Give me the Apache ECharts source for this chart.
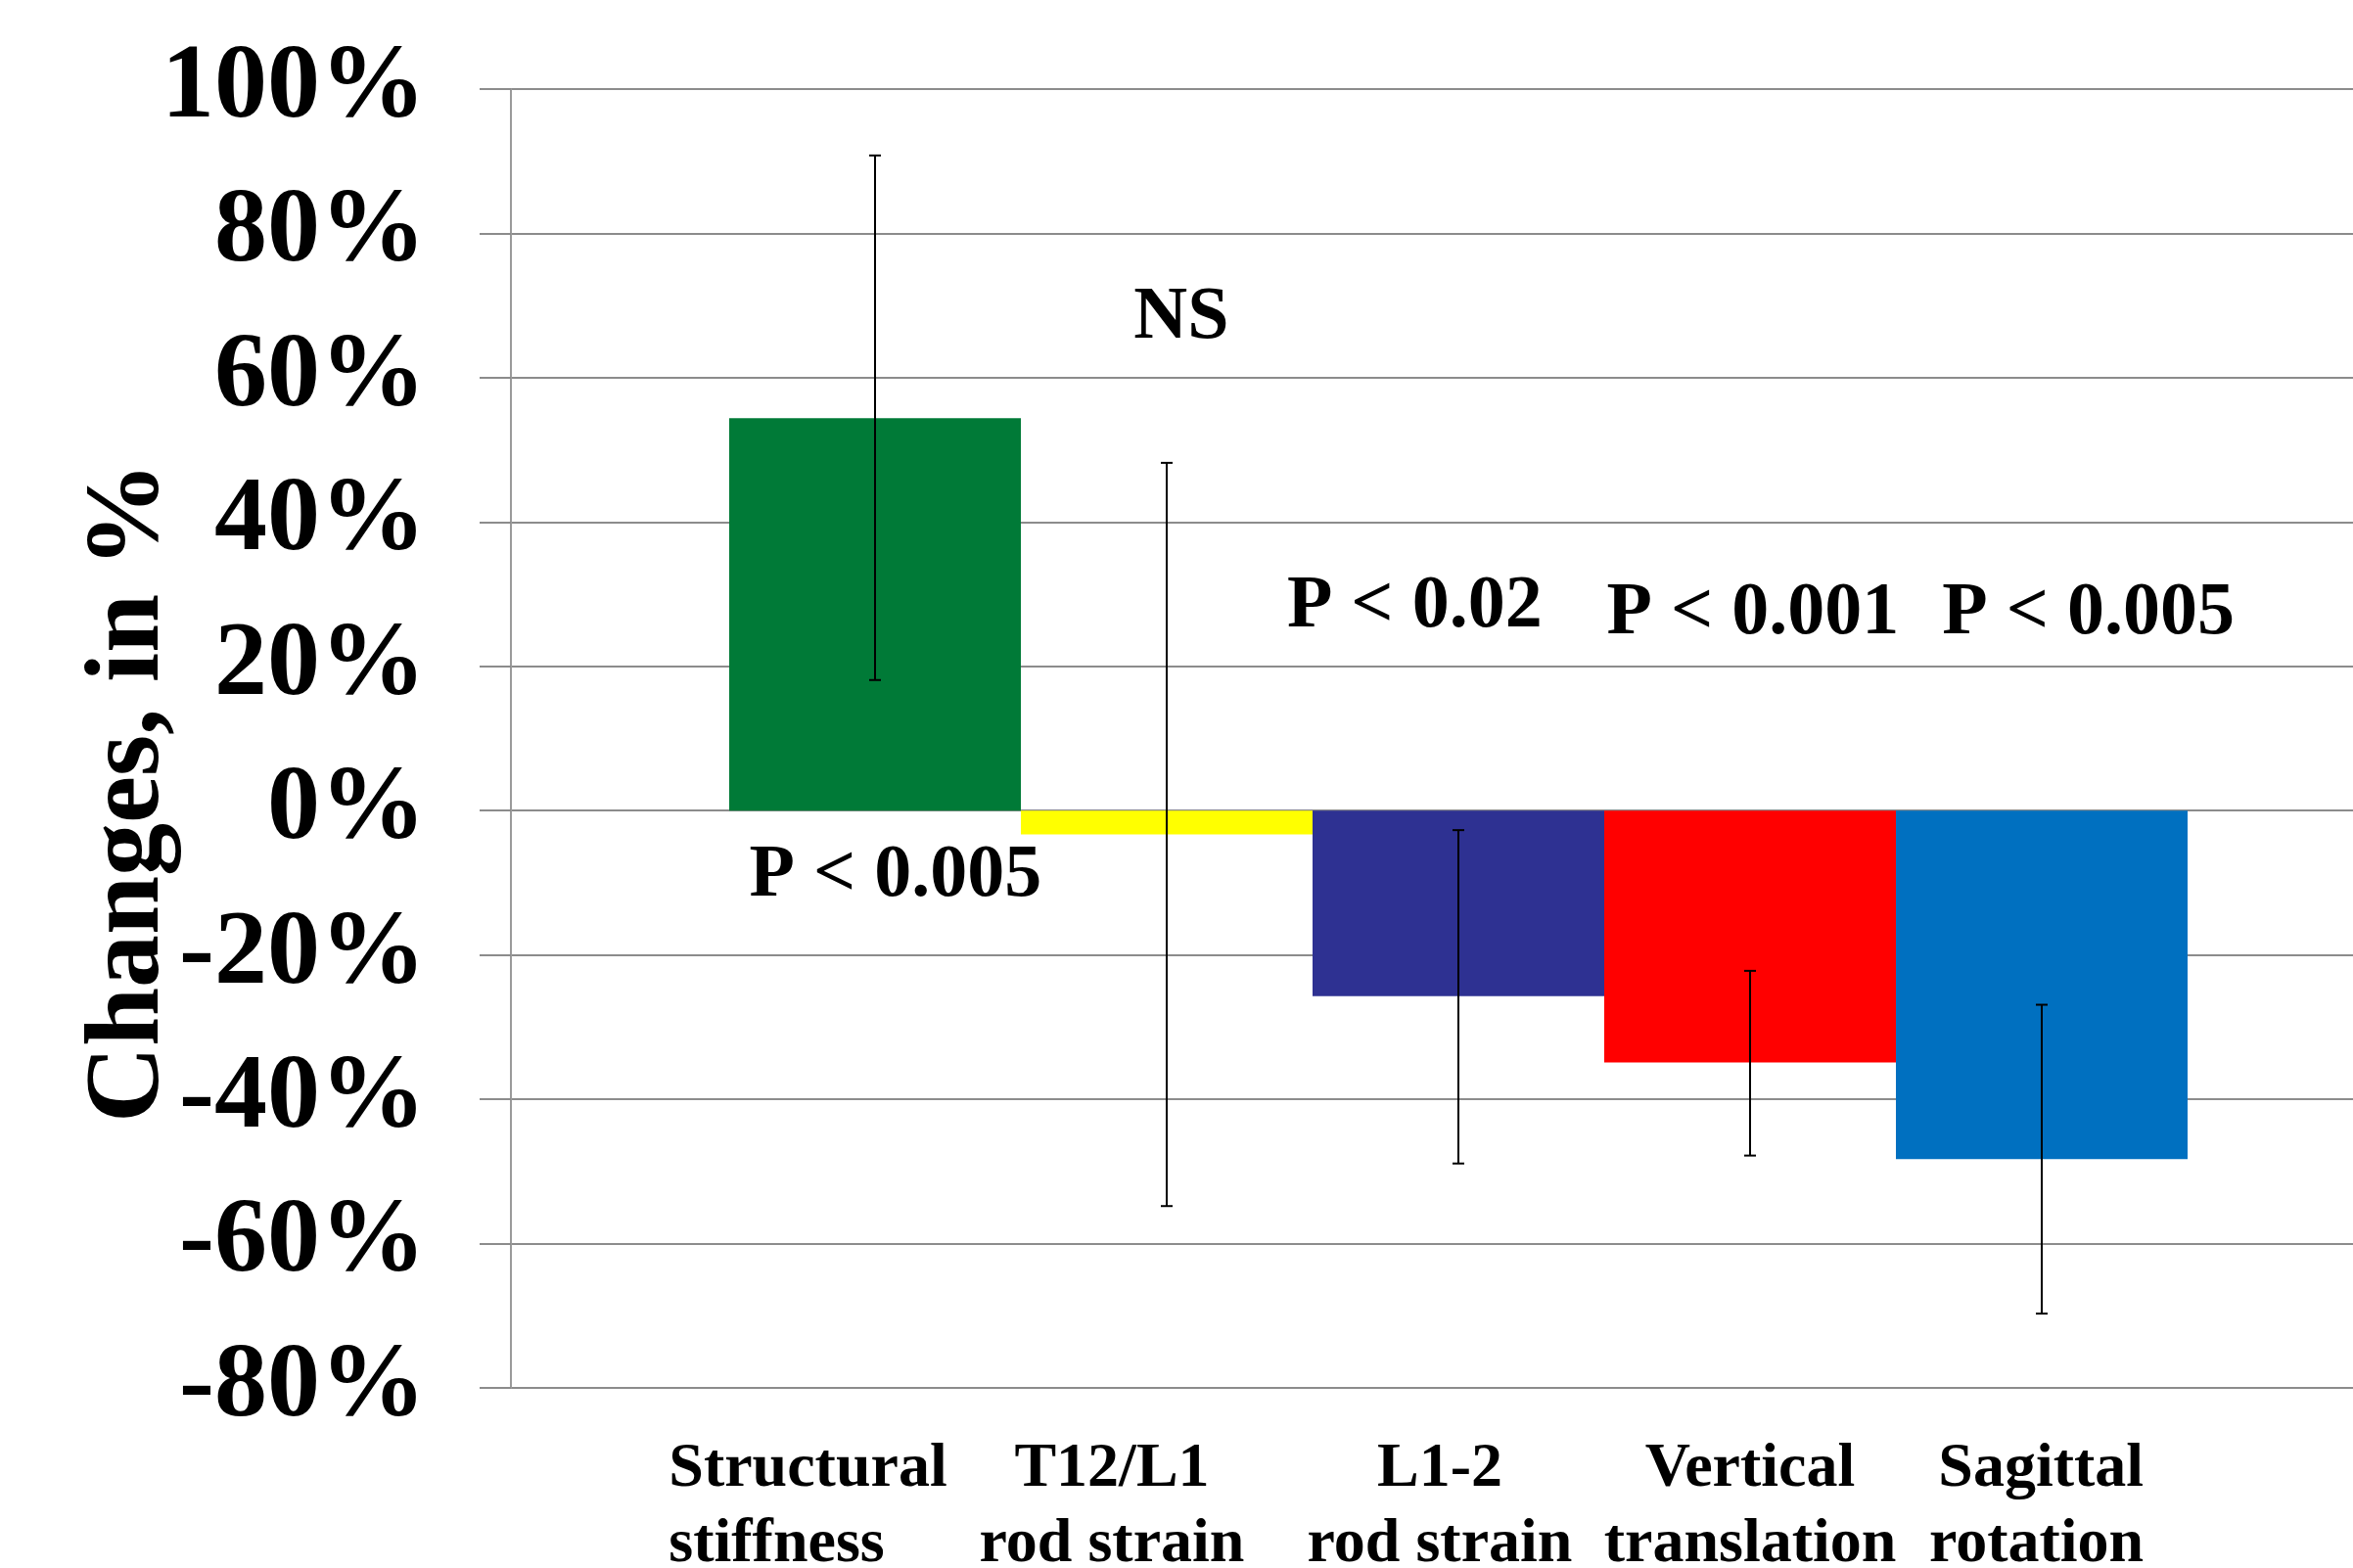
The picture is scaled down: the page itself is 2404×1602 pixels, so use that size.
<!DOCTYPE html>
<html>
<head>
<meta charset="utf-8">
<script src="https://cdn.jsdelivr.net/npm/echarts@6/dist/echarts.min.js"></script>
<style>
html,body{margin:0;padding:0;background:#fff;}
#chart{width:2404px;height:1602px;}
</style>
</head>
<body>
<div id="chart"></div>
<script>
// ---- data ----
const categories = ['Structural\nstiffness', 'T12/L1\nrod strain', 'L1-2\nrod strain', 'Vertical\ntranslation', 'Sagittal\nrotation'];
const values = [54.4, -3.3, -25.7, -34.9, -48.3];
const errLow = [18.1, -54.8, -48.9, -47.8, -69.7];
const errHigh = [90.8, 48.2, -2.7, -22.2, -26.9];
const barColors = ['#007a37', '#ffff00', '#2e3192', '#ff0000', '#0070c0'];
const yMin = -80, yMax = 100, yStep = 20;
const annoText = ['P < 0.005', 'NS', 'P < 0.02', 'P < 0.001', 'P < 0.005'];
const annoCat = [0.07, 1.05, 1.85, 3.01, 4.16];
const annoY = [-8.3, 69.0, 29.0, 28.1, 28.1];

// ---- label layout helpers (styles only) ----
const FONT = '"Liberation Serif", "Times New Roman", serif';
const labelShift = [137, 112, 38, 0, 11];
const labelAlign = ['left', 'center', 'center', 'center', 'right'];
const rich = {};
labelShift.forEach((s, i) => {
  rich['s' + i] = {
    fontFamily: FONT, fontWeight: 'bold', fontSize: 64, color: '#000',
    lineHeight: 77, align: labelAlign[i], padding: [0, s, 0, 0]
  };
});

const chart = echarts.init(document.getElementById('chart'), null, {renderer: 'canvas'});
const option = {
  animation: false,
  backgroundColor: '#fff',
  grid: [
    {left: 522, right: 0, top: 91, bottom: 184, containLabel: false, outerBoundsMode: 'none'},
    {left: 745, right: 169, top: 91, bottom: 184, containLabel: false, outerBoundsMode: 'none'}
  ],
  xAxis: [
    {gridIndex: 0, type: 'value', min: 0, max: 1, show: false},
    {
      gridIndex: 1, type: 'category', data: categories,
      axisLine: {show: false}, axisTick: {show: false},
      axisLabel: {
        interval: 0, margin: 45,
        formatter: function (v, i) {
          return v.split('\n').map(t => '{s' + i + '|' + t + '}').join('\n');
        },
        rich: rich
      }
    }
  ],
  yAxis: [
    {
      gridIndex: 0, type: 'value', min: yMin, max: yMax, interval: yStep,
      axisLine: {show: true, lineStyle: {color: '#9a9a9a', width: 2}},
      axisTick: {show: true, length: 32, lineStyle: {color: '#8c8c8c', width: 2}},
      splitLine: {show: true, lineStyle: {color: '#8c8c8c', width: 2}},
      axisLabel: {
        formatter: '{value}%', margin: 87,
        fontFamily: FONT, fontWeight: 'bold', fontSize: 108, color: '#000',
        padding: [10, 0, 0, 0]
      },
      name: 'Changes, in %', nameLocation: 'middle', nameRotate: 90, nameGap: 335,
      nameMoveOverlap: false,
      nameTextStyle: {
        fontFamily: FONT, fontWeight: 'bold', fontSize: 108, color: '#000',
        padding: [0, 110, 0, 0]
      }
    },
    {gridIndex: 1, type: 'value', min: yMin, max: yMax, interval: yStep, show: false}
  ],
  series: [
    {
      type: 'bar', xAxisIndex: 1, yAxisIndex: 1,
      barWidth: '100%', barCategoryGap: 0,
      data: values.map((v, i) => ({value: v, itemStyle: {color: barColors[i]}})),
      z: 2
    },
    {
      type: 'custom', xAxisIndex: 1, yAxisIndex: 1, z: 5,
      data: values.map((v, i) => [i, errLow[i], errHigh[i]]),
      renderItem: function (params, api) {
        const i = api.value(0);
        const lo = api.coord([i, api.value(1)]);
        const hi = api.coord([i, api.value(2)]);
        const cap = 6;
        const st = {stroke: '#000', lineWidth: 2};
        return {
          type: 'group',
          children: [
            {type: 'line', shape: {x1: hi[0], y1: hi[1], x2: lo[0], y2: lo[1]}, style: st},
            {type: 'line', shape: {x1: hi[0] - cap, y1: hi[1], x2: hi[0] + cap, y2: hi[1]}, style: st},
            {type: 'line', shape: {x1: lo[0] - cap, y1: lo[1], x2: lo[0] + cap, y2: lo[1]}, style: st}
          ]
        };
      }
    },
    {
      type: 'custom', xAxisIndex: 1, yAxisIndex: 1, z: 6,
      data: annoText.map((t, i) => [annoCat[i], annoY[i], t]),
      renderItem: function (params, api) {
        const c = api.value(0);
        const base = Math.floor(c);
        const p = api.coord([base, api.value(1)]);
        const bw = api.size([1, 0])[0];
        return {
          type: 'text',
          x: p[0] + (c - base) * bw, y: p[1] + 6,
          style: {
            text: annoText[params.dataIndex],
            fontFamily: FONT, fontWeight: 'bold', fontSize: 76, fill: '#000',
            align: 'center', verticalAlign: 'middle'
          }
        };
      }
    }
  ]
};
chart.setOption(option);
</script>
</body>
</html>
